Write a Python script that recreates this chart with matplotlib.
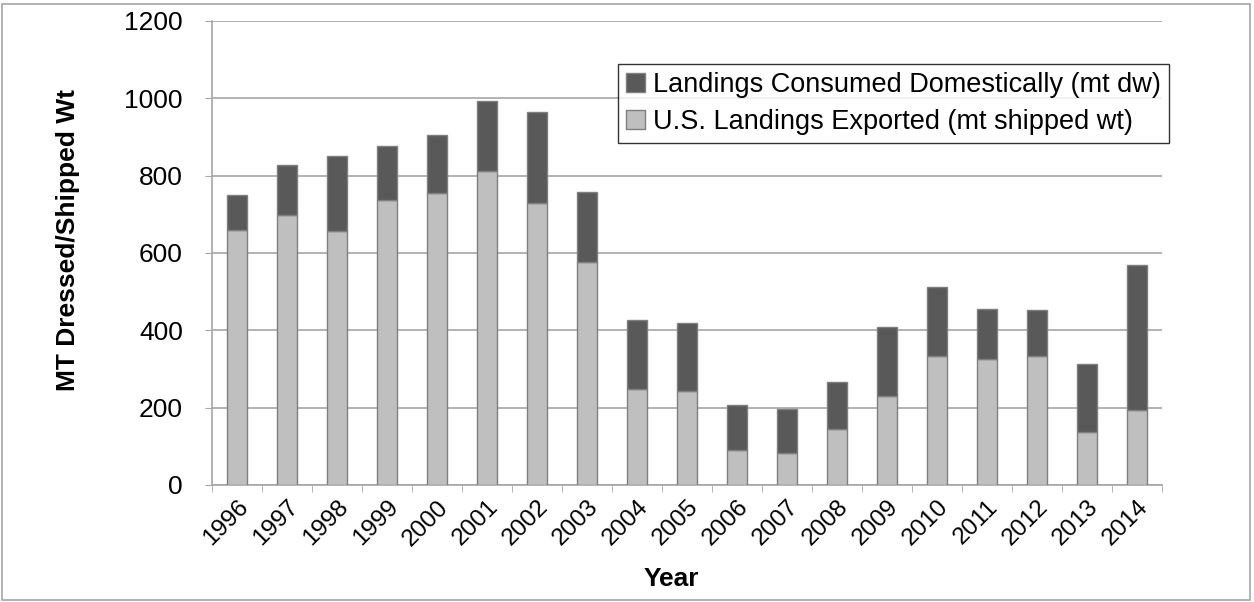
import numpy as np
import matplotlib.pyplot as plt
from matplotlib.patches import Rectangle

# Datos
years = [str(y) for y in range(1996, 2015)]
exported = [659, 699, 656, 736, 756, 813, 729, 577, 247, 244, 90, 84, 144, 230, 333, 326, 333, 137, 194]
total = [750, 827, 851, 877, 904, 994, 964, 757, 428, 419, 206, 197, 266, 409, 512, 455, 452, 312, 568]
domestic = [t - e for t, e in zip(total, exported)]

plt.rcParams['font.family'] = ['Liberation Sans', 'DejaVu Sans']

fig = plt.figure(figsize=(12.54, 6.02), dpi=100)
ax = fig.add_axes([212 / 1254, 1 - 485 / 602, 950 / 1254, 464 / 602])

x = np.arange(len(years))
ax.bar(x, exported, width=0.4, color='#BFBFBF', edgecolor='#7F7F7F', linewidth=1,
       label='U.S. Landings Exported (mt shipped wt)', zorder=3)
ax.bar(x, domestic, bottom=exported, width=0.4, color='#595959', edgecolor='#7F7F7F', linewidth=1,
       label='Landings Consumed Domestically (mt dw)', zorder=3)

ax.set_xlim(-0.5, len(years) - 0.5)
ax.set_ylim(0, 1200)
ax.set_yticks(range(0, 1201, 200))
ax.yaxis.grid(True, color='#A6A6A6', linewidth=1.2)
ax.set_axisbelow(True)

ax.set_xticks(x)
ax.set_xticklabels(years, rotation=45, ha='right', rotation_mode='anchor')
ax.set_xticks(np.arange(-0.5, len(years)), minor=True)
ax.tick_params(axis='x', which='major', length=0, labelsize=17.5, pad=8)
ax.tick_params(axis='x', which='minor', length=5, color='#A6A6A6', direction='out')
ax.tick_params(axis='y', length=5, color='#A6A6A6', labelsize=19, pad=16)

for s in ['top', 'right']:
    ax.spines[s].set_visible(False)
for s in ['left', 'bottom']:
    ax.spines[s].set_color('#A6A6A6')
    ax.spines[s].set_linewidth(1.2)

ax.set_ylabel('MT Dressed/Shipped Wt', fontsize=19, fontweight='bold')
ax.yaxis.set_label_coords(-0.139, 0.528)
fig.text(671 / 1254, 1 - 579 / 602, 'Year', fontsize=19, fontweight='bold', ha='center', va='center')

handles, labels = ax.get_legend_handles_labels()
leg = fig.legend(handles[::-1], labels[::-1], loc='upper right', bbox_to_anchor=(1169 / 1254, 1 - 64 / 602),
                 fontsize=19.5, frameon=True, fancybox=False, edgecolor='black', handlelength=0.7,
                 handleheight=0.7, handletextpad=0.3, borderpad=0.3, labelspacing=0.4, borderaxespad=0)
leg.get_frame().set_linewidth(1)

fig.patches.append(Rectangle((2 / 1254, 2 / 602), 1248 / 1254, 596 / 602, transform=fig.transFigure,
                             fill=False, edgecolor='#A6A6A6', linewidth=1.2))

plt.savefig('out.png', dpi=100)
